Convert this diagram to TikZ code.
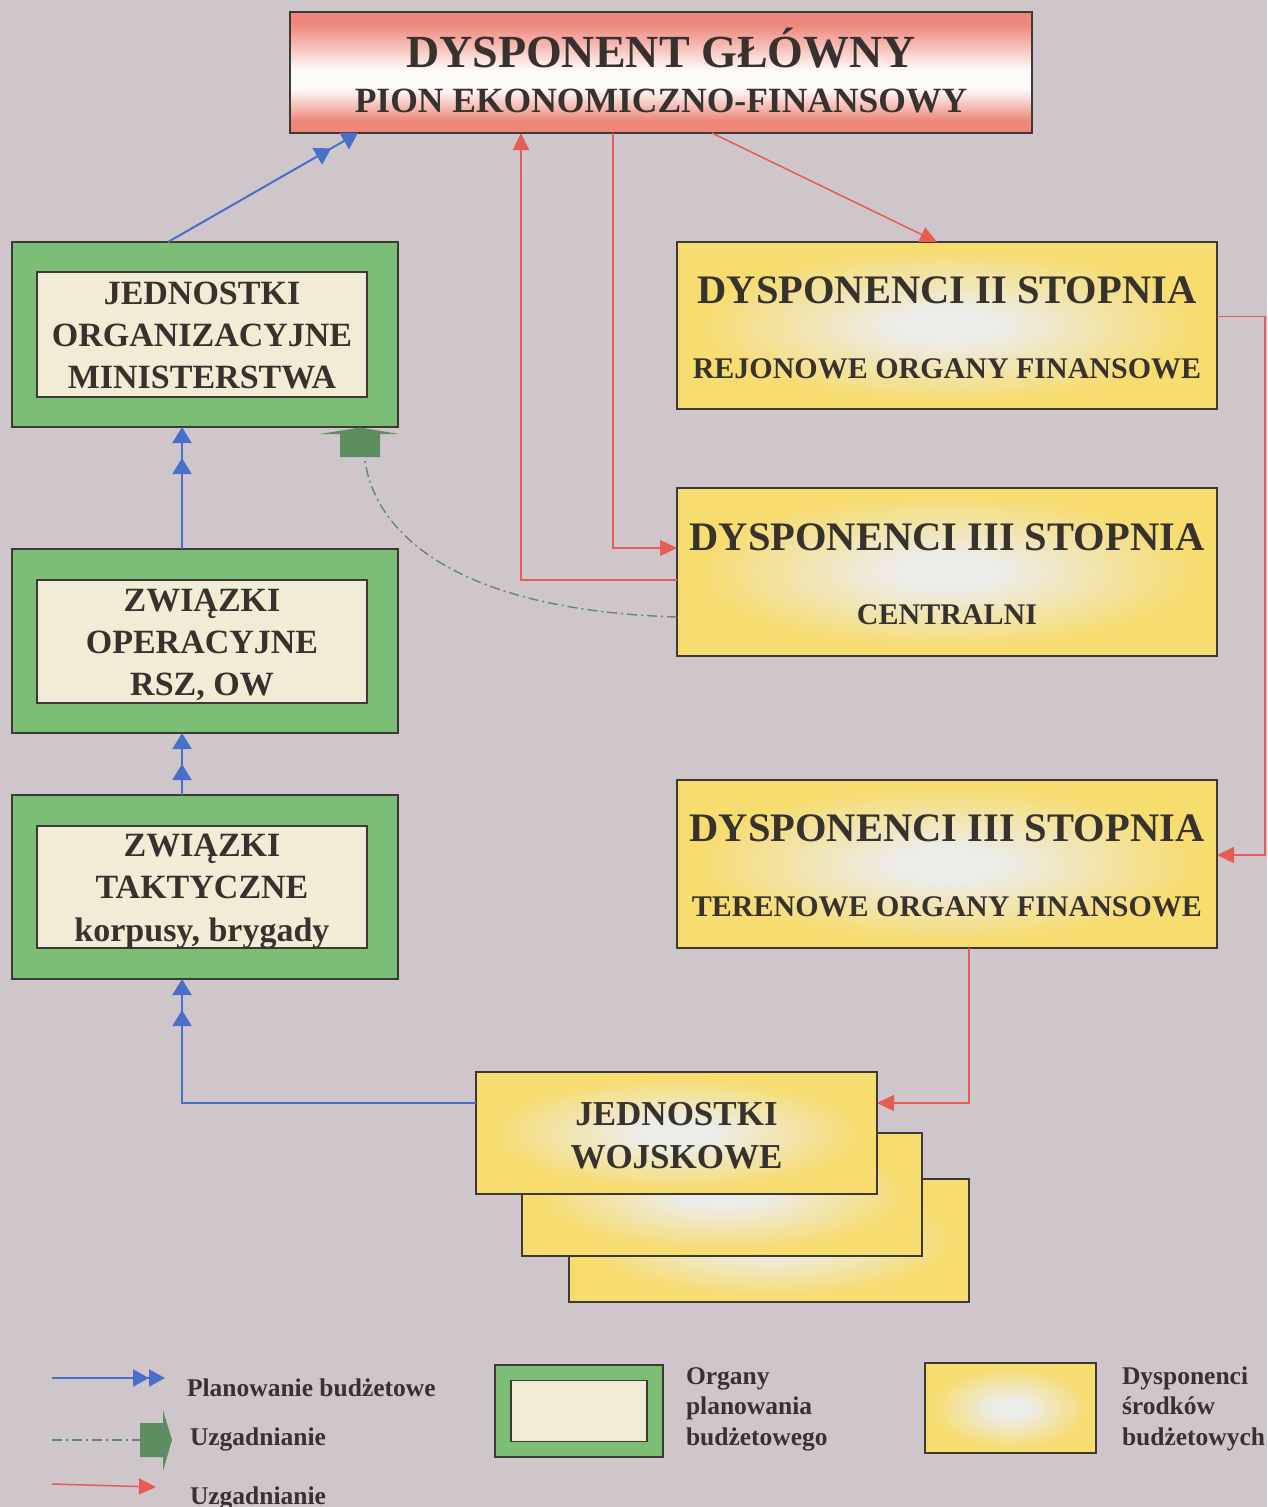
\documentclass[tikz,border=0pt]{standalone}
\usepackage{fontspec}
\setmainfont{Liberation Serif}
\usetikzlibrary{arrows.meta,calc}

\definecolor{bg}{RGB}{207,198,203}
\definecolor{ink}{RGB}{56,50,46}
\definecolor{edge}{RGB}{60,58,55}
\definecolor{gframe}{RGB}{124,190,118}
\definecolor{cream}{RGB}{242,236,214}
\definecolor{ybox}{RGB}{247,220,112}
\definecolor{glow}{RGB}{236,236,232}
\definecolor{rbox}{RGB}{238,134,122}
\definecolor{rline}{RGB}{228,92,84}
\definecolor{bline}{RGB}{72,112,200}
\definecolor{gagree}{RGB}{92,142,96}

% shadings: the filled box covers the band 25bp..75bp of the shading square
\pgfdeclareradialshading{yglow}{\pgfpoint{0bp}{0bp}}{color(0bp)=(glow); color(5bp)=(glow); color(23bp)=(ybox); color(50bp)=(ybox)}
\pgfdeclareverticalshading{redband}{100bp}{color(0bp)=(rbox); color(30bp)=(rbox); color(43bp)=(white!96!rbox); color(51bp)=(white!96!rbox); color(70bp)=(rbox); color(100bp)=(rbox)}

\tikzset{
  every node/.style={inner sep=0pt, outer sep=0pt},
  redbox/.style={draw=edge, line width=1.4pt, shade, shading=redband},
  yelbox/.style={draw=edge, line width=1.4pt, shade, shading=yglow},
  gout/.style={draw=edge, line width=1.4pt, fill=gframe},
  gin/.style={draw=edge, line width=1.4pt, fill=cream},
  lbl/.style={anchor=base, text=ink},
  ftitle/.style={lbl, font=\bfseries\fontsize{46}{50}\selectfont},
  fsub/.style={lbl, font=\bfseries\fontsize{35.5}{40}\selectfont},
  fdys/.style={lbl, font=\bfseries\fontsize{40.5}{46}\selectfont},
  fdsub/.style={lbl, font=\bfseries\fontsize{30}{34}\selectfont},
  fgreen/.style={lbl, font=\bfseries\fontsize{34}{40}\selectfont},
  fjw/.style={lbl, font=\bfseries\fontsize{35}{40}\selectfont},
  fleg/.style={lbl, anchor=base west, font=\bfseries\fontsize{25.5}{30}\selectfont},
  redarr/.style={draw=rline, line width=1.5pt, -{Triangle[length=17pt,width=16pt]}},
  bluearr/.style={draw=bline, line width=2pt,
    -{Triangle[length=16pt,width=19pt,sep=15pt] Triangle[length=16pt,width=19pt]}},
  legblue/.style={draw=bline, line width=2pt,
    -{Triangle[length=16pt,width=17pt] Triangle[length=16pt,width=17pt]}},
  dashdot/.style={draw=gagree, line width=1.4pt, dash pattern=on 10pt off 4pt on 2pt off 4pt},
}

\begin{document}
\begin{tikzpicture}[x=1pt,y=-1pt]
\useasboundingbox (0,0) rectangle (1267,1507);
\clip (0,0) rectangle (1267,1507);
\fill[bg] (0,0) rectangle (1267,1507);

% --- main disposer ---
\node[redbox, minimum width=742pt, minimum height=121pt] (main) at (661,72.5) {};
\node[ftitle] (mainA) at (661,67) {DYSPONENT GŁÓWNY};
\node[fsub] (mainB) at (661,112) {PION EKONOMICZNO-FINANSOWY};

% --- planning bodies (green frames) ---
\node[gout, minimum width=386pt, minimum height=185pt] (g1) at (205,334.5) {};
\node[gin, minimum width=330pt, minimum height=125pt] (g1in) at (202,334.5) {};
\node[fgreen] (g1a) at (202,304) {JEDNOSTKI};
\node[fgreen] (g1b) at (202,346) {ORGANIZACYJNE};
\node[fgreen] (g1c) at (202,388) {MINISTERSTWA};

\node[gout, minimum width=386pt, minimum height=184pt] (g2) at (205,641) {};
\node[gin, minimum width=330pt, minimum height=123pt] (g2in) at (202,641.5) {};
\node[fgreen] (g2a) at (202,611) {ZWIĄZKI};
\node[fgreen] (g2b) at (202,653) {OPERACYJNE};
\node[fgreen] (g2c) at (202,695) {RSZ, OW};

\node[gout, minimum width=386pt, minimum height=184pt] (g3) at (205,887) {};
\node[gin, minimum width=330pt, minimum height=122pt] (g3in) at (202,887) {};
\node[fgreen] (g3a) at (202,856) {ZWIĄZKI};
\node[fgreen] (g3b) at (202,898) {TAKTYCZNE};
\node[fgreen] (g3c) at (202,941) {korpusy, brygady};

% --- budget disposers (yellow) ---
\node[yelbox, minimum width=540pt, minimum height=167pt] (d2) at (947,325.5) {};
\node[fdys] (d2a) at (947,303) {DYSPONENCI II STOPNIA};
\node[fdsub] (d2b) at (947,378) {REJONOWE ORGANY FINANSOWE};

\node[yelbox, minimum width=540pt, minimum height=168pt] (d3c) at (947,572) {};
\node[fdys] (d3ca) at (947,550) {DYSPONENCI III STOPNIA};
\node[fdsub] (d3cb) at (947,624) {CENTRALNI};

\node[yelbox, minimum width=540pt, minimum height=168pt] (d3t) at (947,864) {};
\node[fdys] (d3ta) at (947,841) {DYSPONENCI III STOPNIA};
\node[fdsub] (d3tb) at (947,916) {TERENOWE ORGANY FINANSOWE};

% stacked military units
\node[yelbox, minimum width=400pt, minimum height=123pt] (jw3) at (769,1240.5) {};
\node[yelbox, minimum width=400pt, minimum height=123pt] (jw2) at (722,1194.5) {};
\node[yelbox, minimum width=401pt, minimum height=122pt] (jw) at (676.5,1133) {};
\node[fjw] (jwa) at (676.5,1125) {JEDNOSTKI};
\node[fjw] (jwb) at (676.5,1168) {WOJSKOWE};

% --- budget planning (blue) ---
\draw[bluearr] ([xshift=-37pt]g1.north) -- ([xshift=-303pt]main.south);
\draw[bluearr] ([xshift=-23pt]g2.north) -- ([xshift=-23pt]g1.south);
\draw[bluearr] ([xshift=-23pt]g3.north) -- ([xshift=-23pt]g2.south);
\draw[bluearr] ([yshift=30pt]jw.west) -| ([xshift=-23pt]g3.south);

% --- agreement (red) ---
\draw[redarr] ([xshift=51pt]main.south) -- ([xshift=-10pt]d2.north);
\draw[redarr] ([yshift=-8pt]d3c.west) -| ([xshift=-140pt]main.south);
\draw[redarr] ([xshift=-48pt]main.south) |- ([yshift=24pt]d3c.west);
\draw[redarr] ([yshift=9pt]d2.east) -- ++(48,0) |- ([yshift=9pt]d3t.east);
\draw[redarr] ([xshift=22pt]d3t.south) |- ([yshift=30pt]jw.east);

% --- agreement (green dash-dot with block head) ---
\coordinate (gtail) at (365,461);
\draw[dashdot] ([yshift=-45pt]d3c.west) .. controls (450,610) and (375,530) .. (gtail);
\fill[gagree] (340,457) -- (340,434) -- (320,434) -- (360,427.5) -- (399,434)
  -- (380,434) -- (380,457) -- cycle;

% --- legend ---
\coordinate (lb1) at (52,1378);
\coordinate (lb2) at (165,1378);
\draw[legblue] (lb1) -- (lb2);
\node[fleg] (lbt) at (187,1396) {Planowanie budżetowe};

\coordinate (lg1) at (52,1440);
\coordinate (lg2) at (140,1440);
\draw[dashdot] (lg1) -- (lg2);
\fill[gagree] (140,1423) -- (163,1423) -- (163,1410) -- (172,1440) -- (163,1471)
  -- (163,1457) -- (140,1457) -- cycle;
\node[fleg] (lgt) at (190,1445) {Uzgadnianie};

\coordinate (lr1) at (52,1484);
\coordinate (lr2) at (156,1487);
\draw[redarr] (lr1) -- (lr2);
\node[fleg] (lrt) at (190,1504) {Uzgadnianie};

\node[gout, minimum width=168pt, minimum height=92pt] (lgbox) at (579,1411) {};
\node[gin, minimum width=136pt, minimum height=61pt] (lgboxin) at (579,1411) {};
\node[fleg] (lgb1) at (686,1384) {Organy};
\node[fleg] (lgb2) at (686,1414) {planowania};
\node[fleg] (lgb3) at (686,1445) {budżetowego};

\node[yelbox, minimum width=171pt, minimum height=90pt] (lybox) at (1010.5,1408) {};
\node[fleg] (lyb1) at (1122,1384) {Dysponenci};
\node[fleg] (lyb2) at (1122,1414) {środków};
\node[fleg] (lyb3) at (1122,1445) {budżetowych};
\end{tikzpicture}
\end{document}
